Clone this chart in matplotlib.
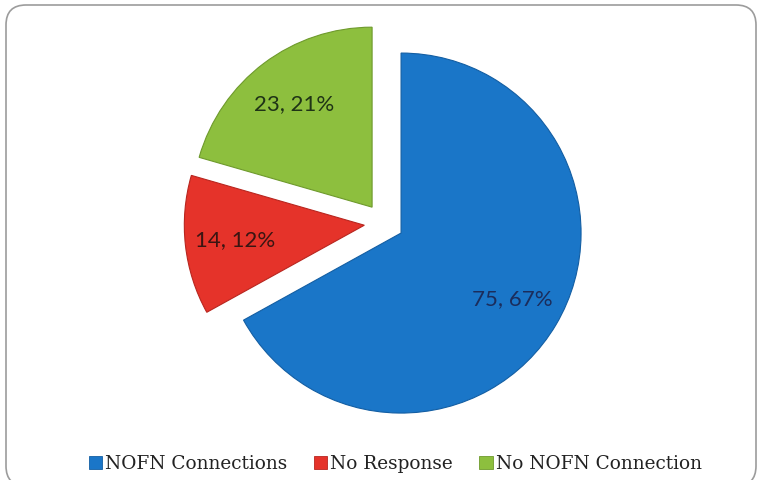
import matplotlib
matplotlib.use("Agg")
import numpy as np
import matplotlib.pyplot as plt
from matplotlib.patches import FancyBboxPatch, Patch

# Survey responses
categories = ["NOFN Connections", "No Response", "No NOFN Connection"]
counts = [75, 14, 23]
percents = [67, 12, 21]

colors = ["#1a76c8", "#e5332a", "#8dbf3e"]
edge_colors = ["#135ea3", "#b8261f", "#6e9a2c"]
label_colors = ["#1b2d5c", "#3a1512", "#1f3316"]

W, H = 757, 480
fig = plt.figure(figsize=(W / 100, H / 100), dpi=100)
fig.patch.set_facecolor("white")

# Rounded frame drawn in pixel units
bg = fig.add_axes([0, 0, 1, 1], zorder=0)
bg.set_xlim(0, W)
bg.set_ylim(H, 0)
bg.axis("off")
frame = FancyBboxPatch((6, 5), 750, 481,
                       boxstyle="round,pad=0,rounding_size=20",
                       facecolor="white", edgecolor="#9c9c9c", linewidth=1.2)
bg.add_patch(frame)

# Pie chart
ax = fig.add_axes([0, 0, 1, 1], zorder=1)
ax.patch.set_alpha(0)
wedges, _ = ax.pie(counts, colors=colors, startangle=90, counterclock=False,
                   explode=[0.11, 0.11, 0.11], radius=1.0,
                   wedgeprops=dict(linewidth=0.8))
for w, ec in zip(wedges, edge_colors):
    w.set_edgecolor(ec)

cx, cy, r = 384, 223, 180
ax.set_aspect("auto")
ax.set_xlim(-cx / r, (W - cx) / r)
ax.set_ylim((cy - H) / r, cy / r)
ax.axis("off")

for w, n, p, tc in zip(wedges, counts, percents, label_colors):
    mid = np.radians((w.theta1 + w.theta2) / 2)
    x0, y0 = w.center
    ax.text(x0 + 0.72 * np.cos(mid), y0 + 0.72 * np.sin(mid), f"{n}, {p}%",
            ha="center", va="center", fontsize=16, family="Lato", color=tc)

handles = [Patch(facecolor=c, edgecolor=ec, linewidth=0.6)
           for c, ec in zip(colors, edge_colors)]
fig.legend(handles, categories, loc="center", bbox_to_anchor=(0.522, 1 - 464 / H),
           ncol=3, frameon=False,
           prop={"family": "DejaVu Serif", "size": 13.3},
           labelcolor="#222222",
           handlelength=0.72, handleheight=0.72, handletextpad=0.15,
           columnspacing=1.45, borderaxespad=0)

fig.savefig("out.png", dpi=100, facecolor="white")
